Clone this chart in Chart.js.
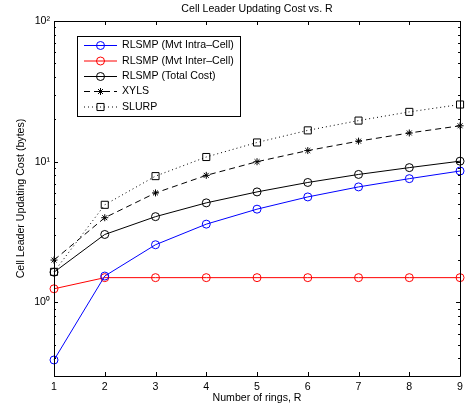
<!DOCTYPE html>
<html><head><meta charset="utf-8">
<script src="https://cdn.jsdelivr.net/npm/chart.js@4"></script>
<style>html,body{margin:0;padding:0;background:#fff}#wrap{width:468px;height:406px}</style>
</head><body><div id="wrap"><canvas id="c" width="468" height="406"></canvas></div>
<script>
// ---- data ----
const rings = [1, 2, 3, 4, 5, 6, 7, 8, 9];
const intraCell = [0.39, 1.54, 2.57, 3.6, 4.6, 5.62, 6.62, 7.58, 8.59];
const interCell = [1.25, 1.5, 1.5, 1.5, 1.5, 1.5, 1.5, 1.5, 1.5];
const totalCost = [1.64, 3.04, 4.07, 5.1, 6.1, 7.12, 8.12, 9.08, 10.09];
const xyls = [2, 4, 6, 8, 10, 12, 14, 16, 18];
const slurp = [1.65, 4.94, 7.9, 10.8, 13.7, 16.7, 19.6, 22.6, 25.5];
const seriesNames = ['RLSMP (Mvt Intra\u2013Cell)', 'RLSMP (Mvt Inter\u2013Cell)', 'RLSMP (Total Cost)', 'XYLS', 'SLURP'];
const yMajorTicks = [1, 10, 100];
const yMajorLabels = ['10\u2070', '10\u00b9', '10\u00b2'];
const xTicks = [1, 2, 3, 4, 5, 6, 7, 8, 9];

const FONT = 'Liberation Sans, Arial, Helvetica, sans-serif';
const FS = 10.6;
const pts = arr => rings.map((r, i) => ({x: r, y: arr[i]}));
const mk = (label, arr, color, style, radius, dash) => ({
  label, data: pts(arr), borderColor: color, borderWidth: 1, borderDash: dash || [],
  pointStyle: style, pointRadius: radius, pointBorderColor: color, pointBorderWidth: 1,
  pointBackgroundColor: 'rgba(0,0,0,0)', fill: false, tension: 0, clip: false
});

const boxTicks = {
  id: 'boxTicks',
  afterDatasetsDraw(chart) {
    const {ctx, chartArea: a, scales: {x, y}} = chart;
    ctx.save();
    ctx.strokeStyle = '#000';
    ctx.lineWidth = 1;
    ctx.beginPath();
    ctx.rect(Math.round(a.left) + 0.5, Math.round(a.top) + 0.5, Math.round(a.right - a.left), Math.round(a.bottom - a.top));
    ctx.stroke();
    ctx.beginPath();
    y.ticks.forEach(t => {
      const py = Math.round(y.getPixelForValue(t.value)) + 0.5;
      const len = yMajorTicks.includes(t.value) ? 4 : 2;
      ctx.moveTo(a.left, py); ctx.lineTo(a.left + len, py);
      ctx.moveTo(a.right, py); ctx.lineTo(a.right - len, py);
    });
    x.ticks.forEach(t => {
      const px = Math.round(x.getPixelForValue(t.value)) + 0.5;
      ctx.moveTo(px, a.bottom); ctx.lineTo(px, a.bottom - 4);
      ctx.moveTo(px, a.top); ctx.lineTo(px, a.top + 4);
    });
    ctx.stroke();

    // legend
    const L = 77, T = 36, R = 240, B = 116;
    ctx.fillStyle = '#fff';
    ctx.fillRect(L, T, R - L, B - T);
    ctx.strokeStyle = '#000';
    ctx.strokeRect(L + 0.5, T + 0.5, R - L, B - T);
    const rowY = [45.5, 61, 76.5, 91.5, 107];
    chart.data.datasets.forEach((ds, i) => {
      const yy = rowY[i];
      ctx.save();
      ctx.strokeStyle = ds.borderColor;
      ctx.fillStyle = 'rgba(0,0,0,0)';
      ctx.lineWidth = 1;
      ctx.setLineDash(ds.borderDash);
      ctx.beginPath(); ctx.moveTo(84, yy); ctx.lineTo(117, yy); ctx.stroke();
      ctx.setLineDash([]);
      Chart.helpers.drawPoint(ctx, {pointStyle: ds.pointStyle, radius: ds.pointRadius, borderWidth: 1, rotation: 0}, 100.5, yy);
      ctx.restore();
      ctx.fillStyle = '#000';
      ctx.font = FS + 'px ' + FONT;
      ctx.textBaseline = 'middle';
      ctx.textAlign = 'left';
      ctx.fillText(ds.label, 122, yy);
    });
    ctx.restore();
  }
};

new Chart(document.getElementById('c'), {
  type: 'line',
  data: {
    datasets: [
      mk(seriesNames[0], intraCell, '#0000ff', 'circle', 4),
      mk(seriesNames[1], interCell, '#ff0000', 'circle', 4),
      mk(seriesNames[2], totalCost, '#000000', 'circle', 4),
      mk(seriesNames[3], xyls, '#000000', 'star', 3.5, [6, 4]),
      mk(seriesNames[4], slurp, '#000000', 'rect', 5, [1, 3])
    ]
  },
  options: {
    responsive: false, animation: false, devicePixelRatio: 1,
    layout: {padding: {left: 0, right: 4, top: 0, bottom: 0}},
    plugins: {
      legend: {display: false},
      tooltip: {enabled: false},
      title: {display: true, text: 'Cell Leader Updating Cost vs. R', fullSize: false,
        color: '#000', font: {family: FONT, size: FS, weight: 'normal', lineHeight: 12 / FS}, padding: {top: 3, bottom: 6}}
    },
    scales: {
      x: {
        type: 'linear', min: 1, max: 9,
        afterBuildTicks: s => { s.ticks = xTicks.map(v => ({value: v})); },
        afterFit: s => { s.height = 30; },
        grid: {display: false, drawTicks: false}, border: {display: false},
        ticks: {color: '#000', font: {family: FONT, size: FS}, padding: 5, autoSkip: false, maxRotation: 0,
          callback: v => String(v)},
        title: {display: true, text: 'Number of rings, R', color: '#000', font: {family: FONT, size: FS}, padding: {top: 0, bottom: 2}}
      },
      y: {
        type: 'logarithmic', min: 0.3, max: 100,
        afterBuildTicks: s => {
          const t = [];
          [0.1, 1, 10].forEach(d => { for (let m = 1; m <= 9; m++) { const v = +(m * d).toPrecision(3); if (v >= 0.3 && v <= 100) t.push({value: v}); } });
          t.push({value: 100});
          s.ticks = t;
        },
        afterFit: s => { s.width = 54; },
        grid: {display: false, drawTicks: false}, border: {display: false},
        ticks: {color: '#000', font: {family: FONT, size: FS}, padding: 4, autoSkip: false,
          callback: v => { const k = yMajorTicks.indexOf(v); return k >= 0 ? yMajorLabels[k] : ''; }},
        title: {display: true, text: 'Cell Leader Updating Cost (bytes)', color: '#000', font: {family: FONT, size: FS}, padding: {top: 15}}
      }
    }
  },
  plugins: [boxTicks]
});
</script></body></html>
